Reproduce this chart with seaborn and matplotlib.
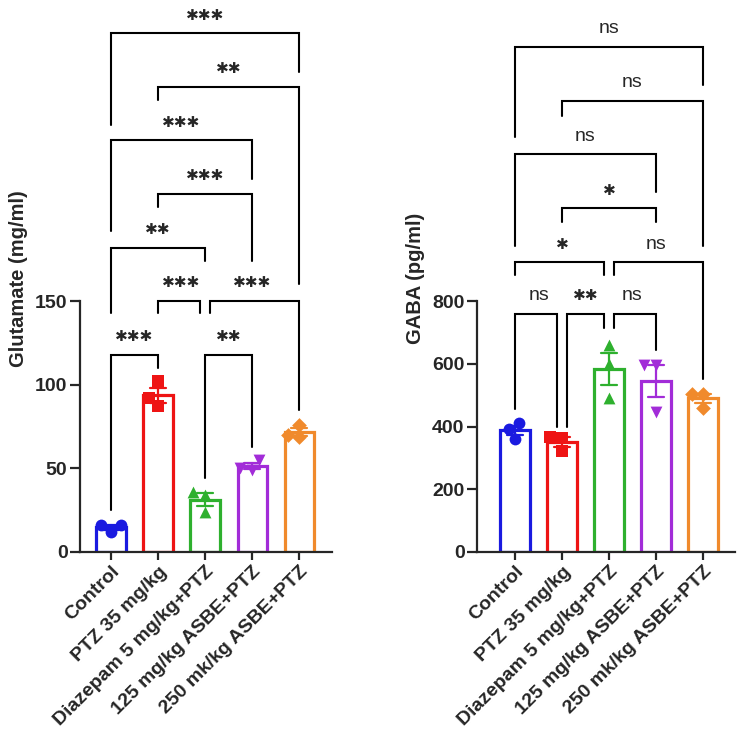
import pandas as pd
import matplotlib
matplotlib.use("Agg")
import matplotlib.pyplot as plt
import seaborn as sns

# === Data ===
groups = ["Control", "PTZ 35 mg/kg", "Diazepam 5 mg/kg+PTZ",
          "125 mg/kg ASBE+PTZ", "250 mk/kg ASBE+PTZ"]
glutamate = [[12, 16, 16], [102, 92, 87], [36, 34, 24], [55, 50, 49], [76, 70, 69]]
gaba = [[410, 392, 360], [368, 362, 322], [660, 600, 490], [595, 595, 445], [505, 505, 460]]

# comparisons: (group a, group b, bracket level, label, left leg end, right leg end)
glu_tests = [
    (0, 4, 310, "***", 255, 287),
    (1, 4, 278, "**", 270, 160),
    (0, 3, 246, "***", 192, 223),
    (1, 3, 214, "***", 206, 174),
    (0, 2, 182, "**", 143, 174),
    (1, 2, 150, "***", 143, 143),
    (2, 4, 150, "***", 143, 85),
    (0, 1, 118, "***", 25, 110),
    (2, 3, 118, "**", 44, 63),
]
gaba_tests = [
    (0, 4, 1610, "ns", 1323, 1488),
    (1, 4, 1438, "ns", 1390, 977),
    (0, 3, 1268, "ns", 977, 1148),
    (1, 3, 1095, "*", 1052, 1052),
    (0, 2, 924, "*", 882, 882),
    (2, 4, 924, "ns", 882, 553),
    (0, 1, 760, "ns", 457, 398),
    (1, 2, 760, "**", 398, 713),
    (2, 3, 760, "ns", 713, 643),
]

colors = ["#1a1ae0", "#ee1414", "#2eb02e", "#a22cd8", "#f08a2c"]
markers = ["o", "s", "^", "v", "D"]

sns.set_style("ticks")
plt.rcParams['font.family'] = ['Liberation Sans', 'DejaVu Sans']


def long_form(values):
    rows = []
    for g, vals in zip(groups, values):
        for v in vals:
            rows.append({"group": g, "value": v})
    return pd.DataFrame(rows)


def draw_panel(ax, values, tests, ylabel, ymax_axis, ytop, yticks, xlim):
    df = long_form(values)
    sns.barplot(data=df, x="group", y="value", hue="group", order=groups,
                hue_order=groups, palette=colors, fill=False, linewidth=2.3,
                width=0.62, errorbar="se", capsize=0.33,
                err_kws={"linewidth": 1.6}, legend=False, ax=ax)
    for g, c, m in zip(groups, colors, markers):
        sub = df[df["group"] == g]
        sns.swarmplot(data=sub, x="group", y="value", order=groups, color=c,
                      marker=m, size=8.5 if m != "D" else 7.5, ax=ax, zorder=4)

    # significance brackets
    for a, b, lvl, lab, la, lb in tests:
        xa, xb = float(a), float(b)
        for a2, b2, lvl2, *_ in tests:
            if lvl2 != lvl or (a2, b2) == (a, b):
                continue
            if b2 == a:
                xa += 0.1
            if a2 == b:
                xb -= 0.1
        ax.plot([xa, xa, xb, xb], [la, lvl, lvl, lb], color="black", lw=1.5,
                solid_joinstyle="miter", zorder=5)
        if "*" in lab:
            txt = lab.replace("*", "\u2731")
            ax.annotate(txt, xy=((a + b) / 2, lvl), xytext=(0, 13),
                        textcoords="offset points", ha="center", va="center",
                        fontsize=11, family=["DejaVu Sans"])
        else:
            ax.annotate(lab, xy=((a + b) / 2, lvl), xytext=(0, 13),
                        textcoords="offset points", ha="center", va="center",
                        fontsize=14)

    ax.set_ylim(0, ytop)
    ax.set_xlim(*xlim)
    ax.set_yticks(yticks)
    ax.spines["left"].set_bounds(0, ymax_axis)
    sns.despine(ax=ax)
    for s in ["left", "bottom"]:
        ax.spines[s].set_linewidth(1.6)
    ax.tick_params(axis="y", length=7, width=1.6, labelsize=14, pad=2)
    ax.tick_params(axis="x", length=6, width=1.6, labelsize=14, pad=2)
    ax.set_xticks(range(len(groups)))
    ax.set_xticklabels(groups, rotation=45, ha="right", rotation_mode="anchor",
                       fontweight="bold")
    for t in ax.get_yticklabels():
        t.set_fontweight("bold")
    ax.set_xlabel("")
    ax.set_ylabel(ylabel, fontsize=14.5, fontweight="bold", labelpad=5)


fig = plt.figure(figsize=(7.42, 7.35), dpi=100)
ax1 = fig.add_axes([80 / 742, 183 / 735, 252 / 742, 547 / 735])
ax2 = fig.add_axes([477 / 742, 183 / 735, 258 / 742, 547 / 735])

draw_panel(ax1, glutamate, glu_tests, "Glutamate (mg/ml)", 150, 547 / 1.673,
           [0, 50, 100, 150], (-0.66, 4.7))
draw_panel(ax2, gaba, gaba_tests, "GABA (pg/ml)", 800, 547 / 0.3137,
           [0, 200, 400, 600, 800], (-0.81, 4.68))

fig.savefig("out.png", dpi=100, facecolor="white")
